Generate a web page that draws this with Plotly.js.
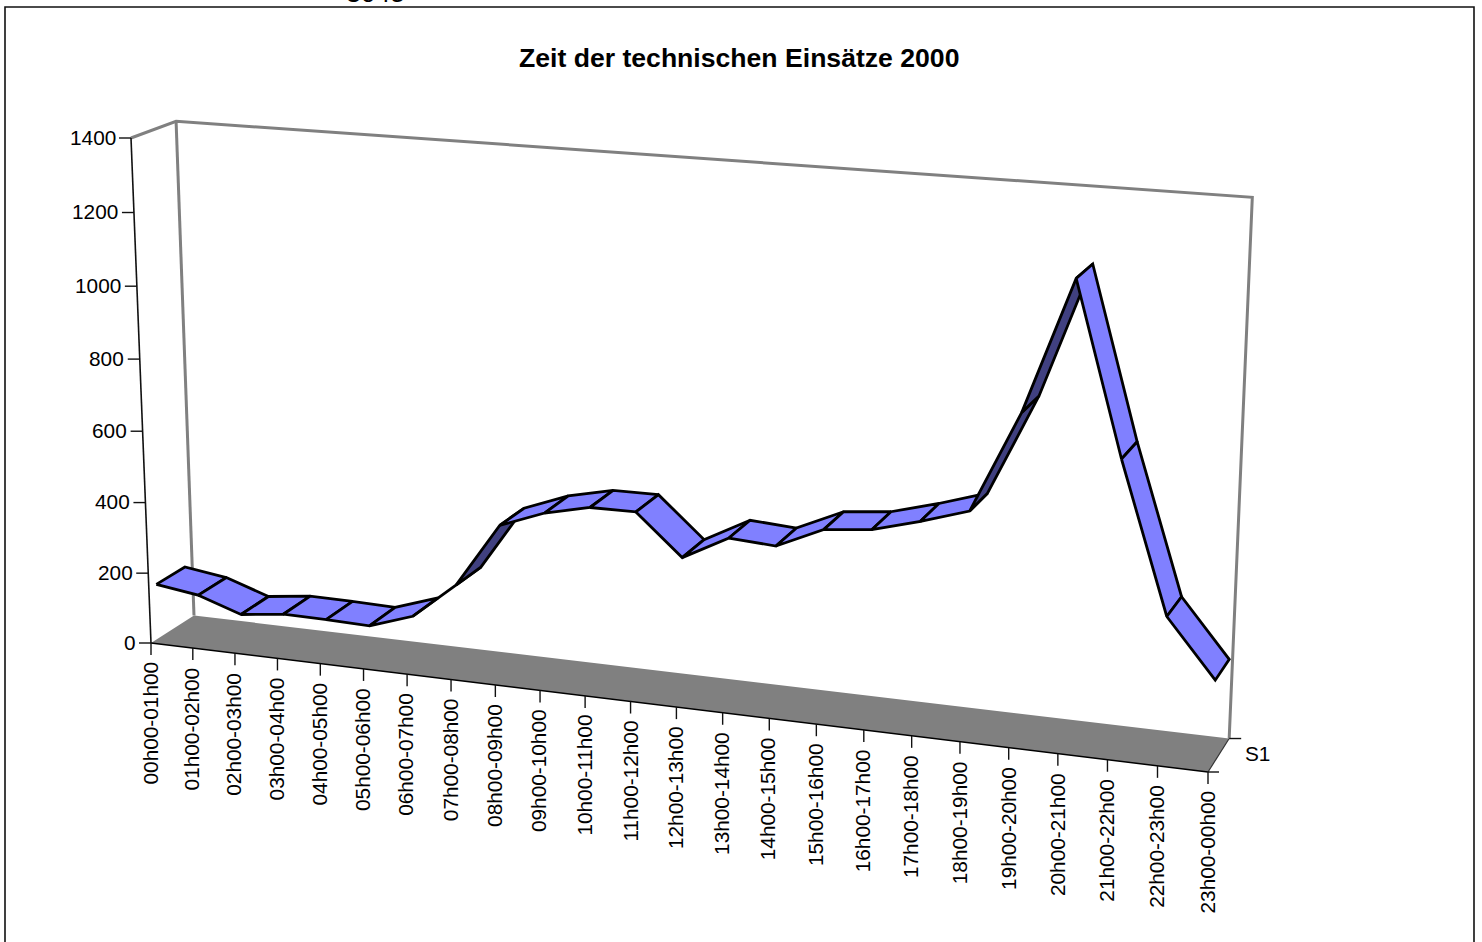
<!DOCTYPE html>
<html><head><meta charset="utf-8">
<script src="https://cdn.plot.ly/plotly-3.0.1.min.js"></script>
<style>html,body{margin:0;padding:0;background:#fff;overflow:hidden}</style>
</head><body><div id="chart" style="width:1482px;height:942px"></div>
<script>
const categories = ["00h00-01h00","01h00-02h00","02h00-03h00","03h00-04h00","04h00-05h00","05h00-06h00","06h00-07h00","07h00-08h00","08h00-09h00","09h00-10h00","10h00-11h00","11h00-12h00","12h00-13h00","13h00-14h00","14h00-15h00","15h00-16h00","16h00-17h00","17h00-18h00","18h00-19h00","19h00-20h00","20h00-21h00","21h00-22h00","22h00-23h00","23h00-00h00"];
const values = [155,138,97,112,111,108,149,250,428,475,503,504,394,460,452,509,522,557,597,864,1213,769,377,226];
const valueTicks = [0,200,400,600,800,1000,1200,1400];
const seriesName = "S1";
const titleText = "Zeit der technischen Einsätze 2000";
const valueMax = 1400;

// Perspective of the 3-D box: category, value and depth map to the page through one homography.
const P0=[151,643], PU=[1208,772], PV=[131,138], PW=[194,615.5];
const p=0.906, r=0.963, q=1.023;
function project(cat, val, depth){
  const U=cat/(categories.length-1), V=val/valueMax, W=depth;
  const den=1+(p-1)*U+(r-1)*V+(q-1)*W;
  return [0,1].map(i=>(P0[i]+U*(p*PU[i]-P0[i])+V*(r*PV[i]-P0[i])+W*(q*PW[i]-P0[i]))/den);
}
const DF=0.17, DB=0.83; // ribbon depth
const BLACK="#000", GREY="#808080", LIGHT="#8080FF", DARK="#404080";
const FONT="Liberation Sans, Arial, sans-serif", FS=20.8;
const traces=[];
function poly(pts,opt){
  traces.push(Object.assign({type:"scatter",mode:"lines",x:pts.map(a=>a[0]),y:pts.map(a=>a[1]),hoverinfo:"skip",showlegend:false},opt));
}
const n=categories.length-1;
// floor
poly([project(0,0,0),project(n,0,0),project(n,0,1),project(0,0,1),project(0,0,0)],{fill:"toself",fillcolor:GREY,line:{width:0,color:GREY}});
poly([project(0,0,0),project(n,0,0)],{line:{color:"#000",width:1.5}});
poly([project(n,0,0),project(n,0,1)],{line:{color:"#333",width:1.2}});
// walls
poly([project(0,valueMax,0),project(0,valueMax,1),project(n,valueMax,1),project(n,0,1)],{line:{color:GREY,width:3}});
poly([project(0,valueMax,1),project(0,0,1)],{line:{color:GREY,width:3}});
// value axis
poly([project(0,0,0),project(0,valueMax,0)],{line:{color:"#111",width:1.6}});
const annotations=[];
function label(x,y,text,o){annotations.push(Object.assign({x,y,xref:"x",yref:"y",text,showarrow:false,font:{family:FONT,size:FS,color:"#000"}},o));}
valueTicks.forEach(v=>{
  const a=project(0,v,0);
  poly([[a[0]-12,a[1]],a],{line:{color:"#111",width:1.4}});
  label(a[0]-13.5,a[1]-1,String(v),{xanchor:"right",yanchor:"middle"});
});
categories.forEach((c,i)=>{
  const a=project(i,0,0);
  poly([a,[a[0],a[1]+12]],{line:{color:"#111",width:1.4}});
  label(a[0]-1,a[1]+17,c,{textangle:-90,xanchor:"center",yanchor:"top"});
});
// series depth tick
const s0=project(n,0,1), s1=project(n,0,0);
poly([s0,[s0[0]+12,s0[1]]],{line:{color:"#111",width:1.4}});
poly([s1,[s1[0]+11,s1[1]]],{line:{color:"#111",width:1.4}});
label(s1[0]+49,(s0[1]+s1[1])/2-2,seriesName,{xanchor:"center",yanchor:"middle"});
// ribbon, painted left to right; faces seen from below are dark
for(let i=0;i<n;i++){
  const a=project(i,values[i],DF), b=project(i+1,values[i+1],DF), c=project(i+1,values[i+1],DB), d=project(i,values[i],DB);
  const cross=(b[0]-a[0])*(d[1]-a[1])-(b[1]-a[1])*(d[0]-a[0]);
  poly([a,b,c,d,a],{fill:"toself",fillcolor:cross>0?DARK:LIGHT,line:{color:BLACK,width:2.8},name:categories[i]});
}
annotations.push({xref:"paper",yref:"paper",x:739/1482,y:1-58/942,text:titleText,showarrow:false,xanchor:"center",yanchor:"middle",font:{family:FONT,size:26.6,color:"#000",weight:700}});
annotations.push({xref:"paper",yref:"paper",x:375.5/1482,y:1-(-7)/942,text:"3045",showarrow:false,xanchor:"center",yanchor:"middle",font:{family:FONT,size:26.6,color:"#000"}});
const layout={width:1482,height:942,margin:{l:0,r:0,t:0,b:0},paper_bgcolor:"#fff",plot_bgcolor:"#fff",showlegend:false,
 xaxis:{visible:false,range:[0,1482],fixedrange:true},yaxis:{visible:false,range:[942,0],fixedrange:true},annotations,
 shapes:[{type:"rect",xref:"paper",yref:"paper",x0:5/1482,x1:1474/1482,y0:-0.02,y1:1-7/942,line:{color:"#111",width:1.6},fillcolor:"rgba(0,0,0,0)",layer:"below"}]};
Plotly.newPlot("chart",traces,layout,{displayModeBar:false,staticPlot:true});
</script></body></html>
